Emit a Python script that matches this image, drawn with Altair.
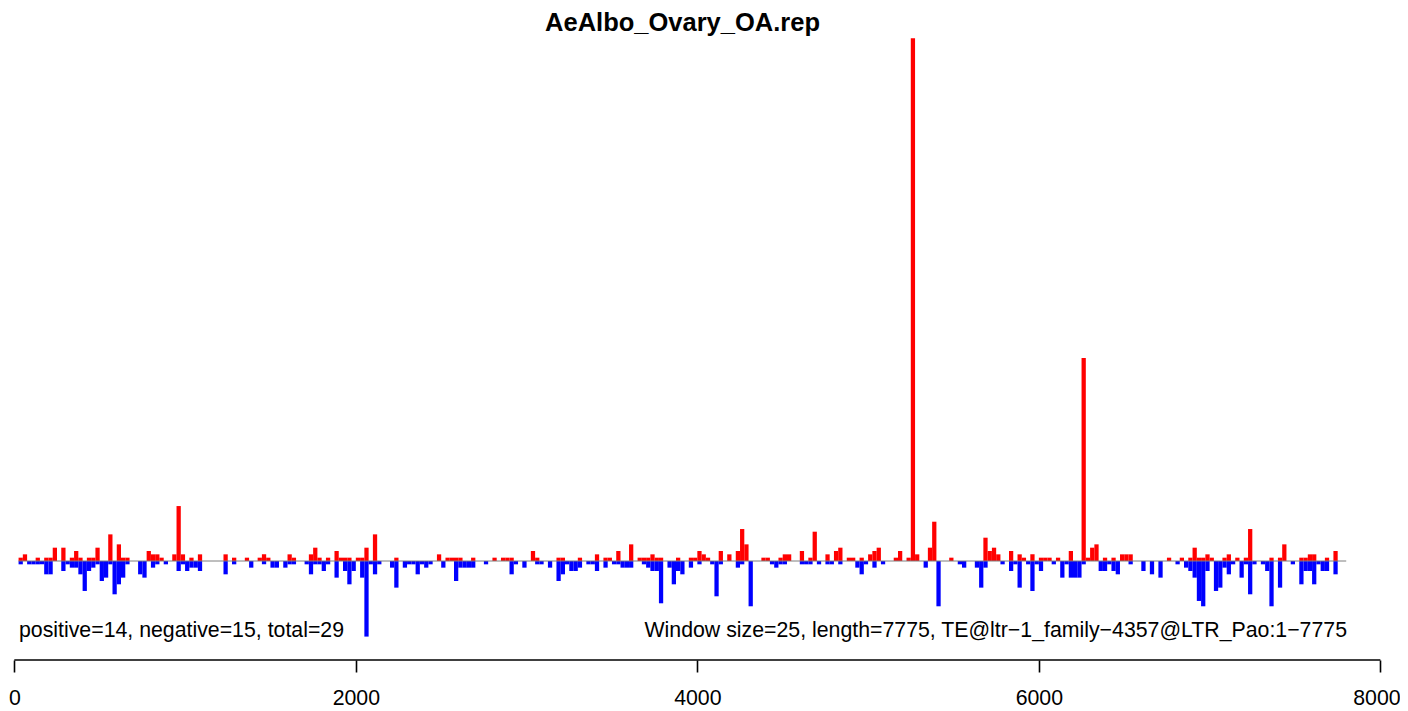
import altair as alt
import pandas as pd

# ---------------- data ----------------
title_text = "AeAlbo_Ovary_OA.rep"
left_note = "positive=14, negative=15, total=29"
right_note = "Window size=25, length=7775, TE@ltr\u22121_family\u22124357@LTR_Pao:1\u22127775"
window_size = 25
seq_length = 7775
x_ticks = [0, 2000, 4000, 6000, 8000]

# window index (start = index * window_size) and signal of forward (red) reads
pos_windows = [1, 2, 5, 7, 8, 9, 11, 13, 14, 15, 17, 18, 19, 22, 24, 25, 26, 31, 32, 33, 34, 37, 38, 39, 41, 43, 49, 51,
               54, 57, 58, 59, 64, 65, 69, 70, 71, 73, 75, 76, 77, 78, 80, 81, 82, 84, 89, 99, 101, 102, 103, 104,
               107, 112, 114, 115, 116, 121, 122, 127, 128, 132, 136, 138, 139, 141, 144, 146, 147, 148, 149, 150, 151,
               155, 158, 159, 160, 161, 162, 165, 167, 169, 170, 171, 175, 176, 179, 180, 181, 184, 186, 187, 190, 192,
               193, 195, 196, 198, 200, 201, 202, 206, 207, 209, 210, 211, 214, 215, 219, 227, 228, 229, 230, 233, 235,
               236, 238, 240, 241, 242, 244, 247, 250, 251, 252, 253, 255, 257, 259, 260, 261, 270, 273, 275, 276, 277,
               278, 279, 280, 283, 284, 286, 288, 289, 294, 296, 297, 301, 302, 303, 304, 307, 309]
pos_values = [1, 2, 1, 1, 1, 4, 4, 1, 3, 1, 1, 1, 4, 8, 5, 1, 1, 3, 2, 2, 1, 2, 16.5, 2, 1, 2, 2, 1,
              1, 1, 2, 1, 2, 1, 2, 4, 1, 1, 3, 1, 1, 1, 1, 1, 4, 8, 1, 2, 1, 1, 1, 1,
              1, 1, 1, 1, 1, 3, 1, 1, 1, 1, 2, 1, 1, 3, 5, 1, 1, 1, 2, 1, 1,
              1, 1, 1, 3, 2, 1, 3, 2, 3, 9.6, 5, 1, 1, 1, 2, 2, 3, 1, 8.8, 2, 3,
              4, 1, 1, 1, 2, 3, 4, 1, 3, 1, 157, 2, 4, 11.8, 1, 7, 3, 4, 2, 3, 2,
              1, 2, 1, 1, 1, 1, 3, 61, 1, 4, 5, 1, 1, 2, 2, 2, 1, 1, 1, 4, 1,
              1, 2, 1, 1, 2, 1, 1, 9.6, 1, 1, 5, 1, 1, 2, 2, 1, 3]

# window index and signal of reverse (blue) reads, drawn below the axis
neg_windows = [1, 3, 4, 5, 6, 7, 8, 11, 12, 13, 14, 15, 16, 17, 18, 19, 20, 21, 22, 23, 24, 25, 26, 29, 30, 32, 33, 35,
               38, 39, 40, 41, 42, 43, 49, 51, 55, 58, 60, 61, 63, 64, 65, 68, 69, 70, 71, 72, 73, 75, 77, 78, 79, 81,
               82, 83, 84, 85, 88, 89, 91, 92, 93, 94, 95, 96, 97, 100, 103, 104, 105, 106, 107, 110, 116, 117, 119,
               122, 123, 125, 127, 128, 129, 130, 131, 132, 134, 135, 136, 138, 140, 141, 142, 143, 144, 147, 148, 149,
               150, 151, 153, 154, 155, 156, 158, 160, 163, 164, 165, 169, 170, 172, 177, 178, 179, 180, 184, 185, 186,
               188, 190, 191, 193, 197, 198, 199, 201, 203, 213, 216, 221, 222, 225, 226, 227, 231, 233, 234, 235, 237,
               238, 239, 240, 243, 245, 246, 247, 248, 249, 250, 254, 255, 256, 257, 258, 261, 264, 266, 268, 272, 274,
               275, 276, 277, 278, 279, 281, 282, 283, 284, 285, 287, 288, 289, 290, 292, 293, 294, 296, 299, 301, 302,
               303, 304, 305, 306, 307, 309]
neg_values = [1, 1, 1, 1, 1, 4, 4, 3, 1, 2, 2, 4, 9, 3, 2, 1, 6, 5, 1, 10, 7, 5, 1, 4, 5, 2, 1, 1,
              3, 1, 3, 2, 2, 3, 4, 1, 2, 1, 2, 2, 2, 1, 1, 1, 4, 1, 1, 3, 1, 5, 3, 7, 3, 5,
              22.7, 1, 4, 1, 2, 8, 2, 1, 1, 4, 1, 2, 1, 2, 6, 2, 2, 2, 2, 1, 4, 1, 2,
              1, 1, 2, 6, 4, 1, 3, 3, 2, 1, 1, 3, 2, 1, 1, 2, 2, 2, 1, 2, 3,
              3, 12.7, 2, 7, 3, 4, 2, 1, 1, 10.6, 1, 2, 1, 13.6, 1, 2, 1, 1, 1, 1, 1,
              1, 1, 1, 1, 2, 4, 1, 2, 1, 2, 13.6, 1, 2, 2, 8, 2, 1, 3, 1, 8, 1,
              9, 1, 3, 1, 5, 1, 5, 5, 5, 1, 3, 3, 1, 3, 4, 1, 3, 4, 5, 1, 2,
              3, 5, 12, 13.6, 3, 9, 8, 2, 4, 1, 5, 1, 10, 1, 1, 3, 13.6, 8, 1, 7, 3,
              3, 7, 1, 3, 3, 4]

# ---------------- tables ----------------
rows = []
for w, v in zip(pos_windows, pos_values):
    rows.append({"start": w * window_size, "end": (w + 1) * window_size, "v0": 0, "v1": v, "strand": "positive"})
for w, v in zip(neg_windows, neg_values):
    rows.append({"start": w * window_size, "end": (w + 1) * window_size, "v0": 0, "v1": -v, "strand": "negative"})
bars_df = pd.DataFrame(rows)

base_df = pd.DataFrame({"x": [window_size], "x2": [seq_length + window_size], "y": [0]})
axis_df = pd.DataFrame({"x": [x_ticks[0]], "x2": [x_ticks[-1]]})

W, H = 1392, 652
FONT = "Liberation Sans"
FS = 21.3

x_scale = alt.Scale(domain=[-36.9, 8114.9], nice=False, zero=False)
y_scale = alt.Scale(domain=[-29.73, 166.07], nice=False, zero=False)

bars = alt.Chart(bars_df).mark_rect(strokeWidth=0).encode(
    x=alt.X("start:Q", scale=x_scale,
            axis=alt.Axis(values=x_ticks, title=None, domain=False, grid=False, ticks=True,
                          tickSize=12, tickColor="black", tickWidth=1.6, format="d",
                          labelFont=FONT, labelFontSize=FS, labelColor="black",
                          labelPadding=15, labelFlush=False, labelOverlap=False,
                          labelOffset={"expr": "datum.value == 8000 ? -4 : 0"})),
    x2="end:Q",
    y=alt.Y("v0:Q", scale=y_scale, axis=None),
    y2="v1:Q",
    color=alt.Color("strand:N", scale=alt.Scale(domain=["positive", "negative"],
                                               range=["#ff0000", "#0000ff"]), legend=None),
)

baseline = alt.Chart(base_df).mark_rule(color="#7f7f7f", strokeWidth=1).encode(
    x=alt.X("x:Q", scale=x_scale), x2="x2:Q", y=alt.Y("y:Q", scale=y_scale))

axis_line = alt.Chart(axis_df).mark_rule(color="black", strokeWidth=1.6).encode(
    x=alt.X("x:Q", scale=x_scale), x2="x2:Q", y=alt.value(H))

left_txt = alt.Chart(pd.DataFrame({"t": [left_note]})).mark_text(
    align="left", baseline="middle", font=FONT, fontSize=FS, color="black").encode(
    text="t:N", x=alt.value(11), y=alt.value(623))

right_txt = alt.Chart(pd.DataFrame({"t": [right_note]})).mark_text(
    align="right", baseline="middle", font=FONT, fontSize=FS, color="black").encode(
    text="t:N", x=alt.value(1339), y=alt.value(623))

title_txt = alt.Chart(pd.DataFrame({"t": [title_text]})).mark_text(
    align="center", baseline="alphabetic", font=FONT, fontSize=25.5, fontWeight="bold", color="black").encode(
    text="t:N", x=alt.value(674.5), y=alt.value(23))

chart = alt.layer(bars, baseline, axis_line, left_txt, right_txt, title_txt).properties(
    width=W, height=H,
    autosize=alt.AutoSizeParams(type="none"),
    padding={"left": 0, "top": 0, "right": 0, "bottom": 48},
).configure_view(stroke=None)

chart.save("out.html", embed_options={"renderer": "svg", "actions": False})
